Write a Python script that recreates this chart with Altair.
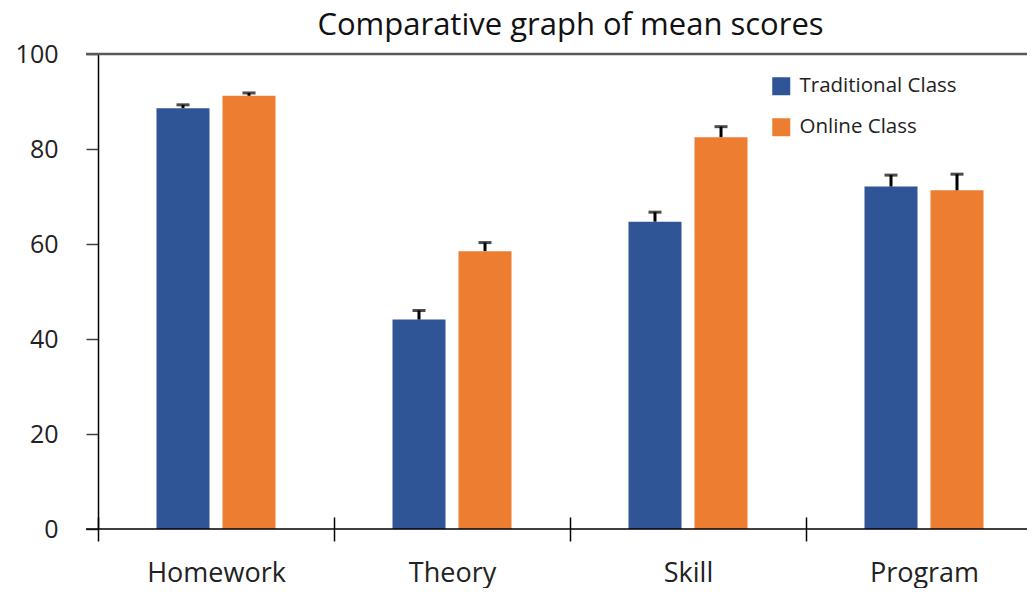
import altair as alt
import pandas as pd

categories = ["Homework", "Theory", "Skill", "Program"]
groups = ["Traditional Class", "Online Class"]
traditional_means = [88.6, 44.1, 64.7, 72.1]
traditional_upper = [89.3, 46.0, 66.7, 74.5]
online_means = [91.2, 58.5, 82.5, 71.3]
online_upper = [91.8, 60.3, 84.7, 74.7]
colors = ["#2F5597", "#ED7D31"]
y_ticks = [0, 20, 40, 60, 80, 100]

rows = []
for i, c in enumerate(categories):
    rows.append({"cat": c, "grp": groups[0], "mean": traditional_means[i], "upper": traditional_upper[i]})
    rows.append({"cat": c, "grp": groups[1], "mean": online_means[i], "upper": online_upper[i]})
df = pd.DataFrame(rows)

FONT = "Open Sans"
W = 929
H = 475
RANGE_W = 944

xscale = alt.Scale(domain=categories, range=[0, RANGE_W], paddingInner=0, paddingOuter=0)
xoff_scale = alt.Scale(domain=groups, paddingInner=0.197, paddingOuter=0.886)
yscale = alt.Scale(domain=[0, 100], nice=False)

x_enc = alt.X("cat:N", scale=xscale, sort=categories, title=None,
              axis=alt.Axis(domain=False, offset=-12, tickBand="extent", tickSize=24,
                            tickColor="#000000", tickWidth=1.5, labelAngle=0,
                            labelFontSize=27, labelFont=FONT, labelColor="#222222",
                            labelPadding=19))
xoff = alt.XOffset("grp:N", scale=xoff_scale, sort=groups)

base = alt.Chart(df)

bars = base.mark_bar().encode(
    x=x_enc,
    xOffset=xoff,
    y=alt.Y("mean:Q", scale=yscale, title=None,
            axis=alt.Axis(values=y_ticks, grid=False, domainColor="#000000", domainWidth=1.5,
                          tickSize=12, tickColor="#404040", tickWidth=1.5,
                          labelFontSize=25, labelFont=FONT, labelColor="#222222",
                          labelPadding=28)),
    color=alt.Color("grp:N", sort=groups, scale=alt.Scale(domain=groups, range=colors),
                    legend=alt.Legend(title=None, orient="none", legendX=673, legendY=22,
                                      symbolType="square", symbolSize=324, symbolStrokeWidth=0,
                                      labelFontSize=20.5, labelFont=FONT, labelColor="#222222",
                                      labelOffset=8, rowPadding=20, symbolOpacity=1)),
)

err = base.mark_rule(color="#000000", strokeWidth=3).encode(
    x=alt.X("cat:N", scale=xscale, sort=categories),
    xOffset=xoff,
    y=alt.Y("mean:Q", scale=yscale),
    y2="upper:Q",
)

caps = base.mark_tick(color="#000000", thickness=3, size=13, orient="horizontal").encode(
    x=alt.X("cat:N", scale=xscale, sort=categories),
    xOffset=xoff,
    y=alt.Y("upper:Q", scale=yscale),
)

top_line = alt.Chart(pd.DataFrame({"yv": [100]})).mark_rule(color="#595959", strokeWidth=2.5).encode(
    y=alt.Y("yv:Q", scale=yscale), x=alt.value(-12), x2=alt.value(RANGE_W))
base_line = alt.Chart(pd.DataFrame({"yv": [0]})).mark_rule(color="#000000", strokeWidth=1.5).encode(
    y=alt.Y("yv:Q", scale=yscale), x=alt.value(-12), x2=alt.value(RANGE_W))

chart = alt.layer(bars, err, caps, top_line, base_line).properties(
    width=W, height=H,
    autosize=alt.AutoSizeParams(type="none"),
    padding={"left": 90, "top": 46, "right": 0, "bottom": 59},
    title=alt.TitleParams("Comparative graph of mean scores", fontSize=31, font=FONT,
                          fontWeight="normal", color="#111111", anchor="middle",
                          dx=8, offset=0),
).configure_view(stroke=None)

chart.save("out.html", embed_options={"renderer": "svg", "actions": False})
